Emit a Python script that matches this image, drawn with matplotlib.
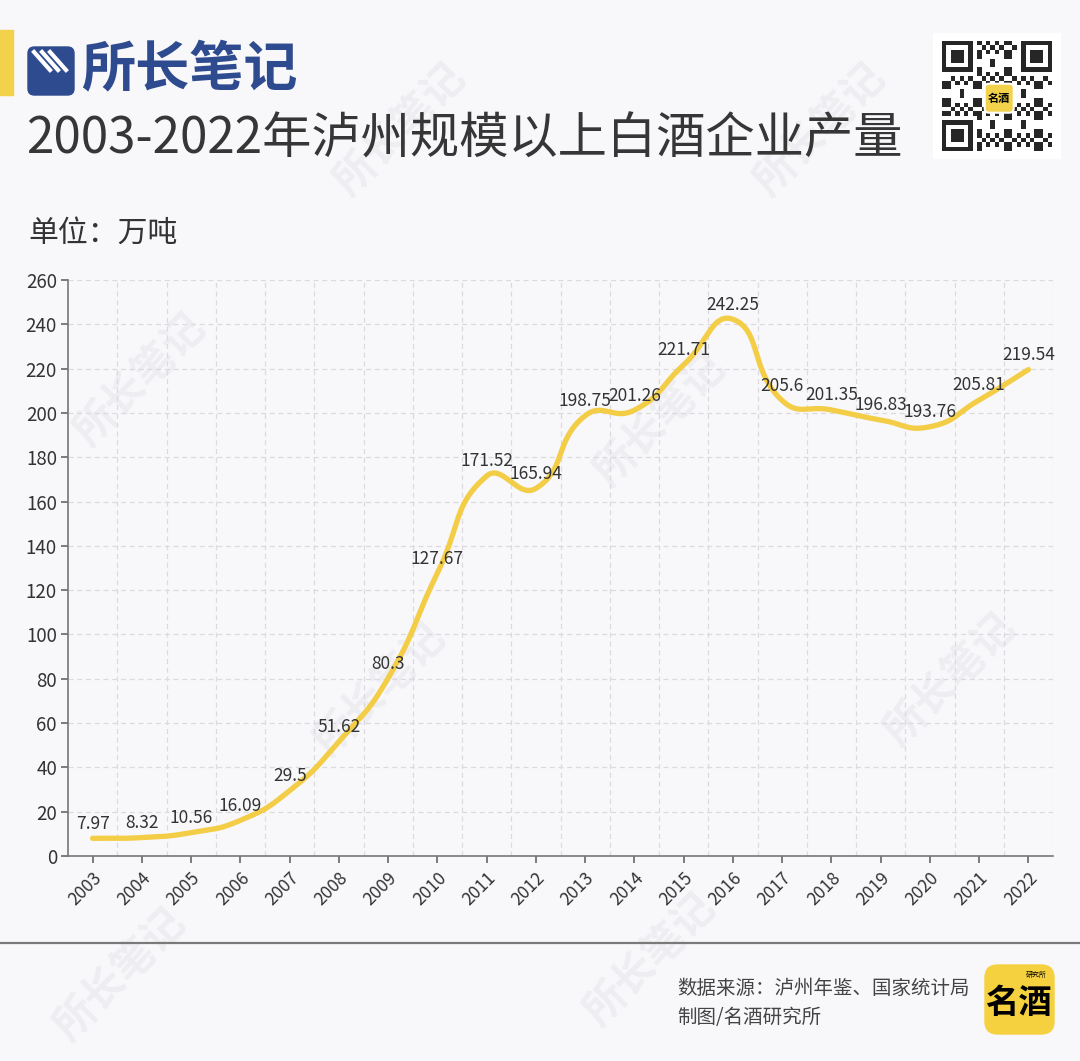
import numpy as np
import matplotlib.pyplot as plt
from matplotlib.patches import FancyBboxPatch, Rectangle
from matplotlib.lines import Line2D

plt.rcParams['font.family'] = ['Noto Sans CJK SC', 'DejaVu Sans']

years = [str(y) for y in range(2003, 2023)]
output = [7.97, 8.32, 10.56, 16.09, 29.5, 51.62, 80.3, 127.67, 171.52, 165.94,
          198.75, 201.26, 221.71, 242.25, 205.6, 201.35, 196.83, 193.76, 205.81, 219.54]
yticks = list(range(0, 261, 20))

W, H = 1080, 1061
bg = '#f8f7fa'
yellow = '#f2cd45'
dark = '#333333'


def fx(px):
    return px / W


def fy(py):
    return 1 - py / H


def smooth_line(xs, ys, sx, sy, smooth=0.5, n=40):
    # bezier smoothing similar to echarts "smooth: true"
    P = np.column_stack([np.asarray(xs, float) * sx, np.asarray(ys, float) * sy])
    N = len(P)
    cin, cout = [], []
    for i in range(N):
        prev = P[i - 1] if i > 0 else P[i]
        nxt = P[i + 1] if i < N - 1 else P[i]
        v = (nxt - prev) * smooth
        d0 = np.linalg.norm(P[i] - prev)
        d1 = np.linalg.norm(nxt - P[i])
        s = d0 + d1
        if s > 0:
            d0, d1 = d0 / s, d1 / s
        cin.append(P[i] - v * d0)
        cout.append(P[i] + v * d1)
    t = np.linspace(0, 1, n)[:, None]
    pts = []
    for i in range(N - 1):
        p0, p1, p2, p3 = P[i], cout[i], cin[i + 1], P[i + 1]
        seg = (1 - t) ** 3 * p0 + 3 * (1 - t) ** 2 * t * p1 + 3 * (1 - t) * t ** 2 * p2 + t ** 3 * p3
        pts.append(seg if i == 0 else seg[1:])
    pts = np.vstack(pts)
    return pts[:, 0] / sx, pts[:, 1] / sy


fig = plt.figure(figsize=(W / 100, H / 100), dpi=100, facecolor=bg)

# watermarks
for (wx, wy) in [(400, 130), (820, 130), (140, 380), (660, 420), (380, 690), (950, 680), (120, 975), (650, 960)]:
    fig.text(fx(wx), fy(wy), '所长笔记', fontsize=30, fontweight='bold', color='#eeedf1',
             rotation=45, ha='center', va='center', zorder=0)

ax = fig.add_axes([fx(68), fy(856), (1053 - 68) / W, (856 - 280) / H])
ax.set_zorder(1)
ax.set_facecolor('none')
x = np.arange(len(years))
ax.set_xlim(-0.5, len(years) - 0.5)
ax.set_ylim(0, 260)
ax.set_yticks(yticks)
ax.set_xticks(x)
ax.set_xticklabels(years, rotation=45, ha='right', rotation_mode='anchor')
ax.set_xticks(np.arange(0.5, len(years), 1), minor=True)
ax.tick_params(axis='x', which='minor', length=0)
ax.tick_params(axis='both', which='major', colors='#666666', labelcolor=dark, length=5, width=1.2)
ax.tick_params(axis='y', labelsize=13.5, pad=3)
ax.tick_params(axis='x', labelsize=12.5, pad=4)
ax.grid(axis='y', which='major', ls=(0, (4, 3)), color='#dcdadf', lw=0.9)
ax.grid(axis='x', which='minor', ls=(0, (4, 3)), color='#dcdadf', lw=0.9)
ax.set_axisbelow(True)
for s in ['top', 'right']:
    ax.spines[s].set_visible(False)
for s in ['left', 'bottom']:
    ax.spines[s].set_color('#777777')
    ax.spines[s].set_linewidth(1.2)

sx_, sy_ = 49.2, 576 / 260
cx, cy = smooth_line(x, output, sx_, sy_)
ax.plot(cx, cy, color=yellow, lw=3.8, solid_capstyle='round', zorder=3)
for xi, v in zip(x, output):
    ax.annotate(f'{v:g}', (xi, v), xytext=(0, 4), textcoords='offset points',
                ha='center', va='bottom', fontsize=12.5, color=dark, zorder=4)

# header
fig.patches.append(Rectangle((0, fy(95)), fx(13), (95 - 30) / H, transform=fig.transFigure,
                             color='#f2d24a', zorder=2))
fig.patches.append(FancyBboxPatch((fx(28), fy(95)), fx(46), (95 - 47) / H,
                                  boxstyle='round,pad=0,rounding_size=0.006',
                                  transform=fig.transFigure, color='#2d4b8e', zorder=2))
for k in range(3):
    x0 = 34 + k * 8
    fig.lines.append(Line2D([fx(x0), fx(x0 + 16)], [fy(52), fy(70)], transform=fig.transFigure,
                            color='white', lw=3, zorder=3))
fig.text(fx(81), fy(71), '所长笔记', fontsize=39, fontweight='heavy', color='#2d4b8e',
         ha='left', va='center')
fig.text(fx(26), fy(140), '2003-2022年泸州规模以上白酒企业产量', fontsize=35.5, fontweight='medium',
         color='#363636', ha='left', va='center')
fig.text(fx(28), fy(233), '单位：万吨', fontsize=21.5, color=dark, ha='left', va='center')

# QR-like block
fig.patches.append(Rectangle((fx(933), fy(158)), fx(127), (158 - 33) / H, transform=fig.transFigure,
                             color='white', zorder=2))
qr = np.zeros((25, 25))
for i in range(25):
    for j in range(25):
        qr[i, j] = 1 if ((i * i * 3 + j * j * 5 + i * j * 7 + i + 2 * j) % 7) < 3 else 0
for (r, c) in [(0, 0), (0, 17), (17, 0)]:
    qr[r:r + 8, c:c + 8] = 0
    qr[r + (r > 0):r + (r > 0) + 7, c + (c > 0):c + (c > 0) + 7] = 1
    rr, cc = r + (r > 0), c + (c > 0)
    qr[rr + 1:rr + 6, cc + 1:cc + 6] = 0
    qr[rr + 2:rr + 5, cc + 2:cc + 5] = 1
qax = fig.add_axes([fx(942), fy(151), fx(110), 110 / H])
qax.set_zorder(3)
qax.imshow(qr, cmap='Greys', interpolation='nearest', vmin=0, vmax=1.15)
qax.add_patch(FancyBboxPatch((9.2, 9.2), 6.6, 6.6, boxstyle='round,pad=0,rounding_size=1',
                             facecolor='#f2d24a', edgecolor='white', lw=1.5, zorder=3))
qax.text(12.5, 12.6, '名酒', fontsize=8, fontweight='bold', ha='center', va='center', zorder=4)
qax.axis('off')

# footer
fig.lines.append(Line2D([0, 1], [fy(943), fy(943)], transform=fig.transFigure, color='#7a7a7a', lw=1.6))
fig.text(fx(677), fy(988), '数据来源：泸州年鉴、国家统计局', fontsize=14, color='#444444', ha='left', va='center')
fig.text(fx(677), fy(1018), '制图/名酒研究所', fontsize=14, color='#444444', ha='left', va='center')
fig.patches.append(FancyBboxPatch((fx(985), fy(1034)), fx(69), (1034 - 965) / H,
                                  boxstyle='round,pad=0,rounding_size=0.012',
                                  transform=fig.transFigure, color='#f5d13f', zorder=2))
fig.text(fx(1019), fy(1003), '名酒', fontsize=24, fontweight='heavy', color='black',
         ha='center', va='center', zorder=3)
fig.text(fx(1036), fy(975), '研究所', fontsize=5, color='black', ha='center', va='center', zorder=3)

fig.savefig('out.png', dpi=100, facecolor=bg)
